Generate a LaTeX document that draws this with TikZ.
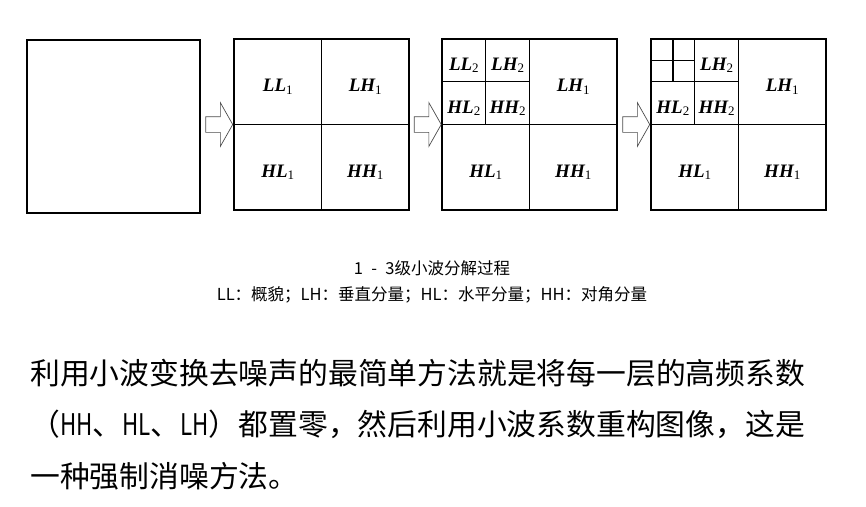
\documentclass[tikz,border=0pt]{standalone}
\usepackage{fontspec}
\setmainfont{Liberation Serif}
\newfontfamily\cjk{Noto Sans CJK SC}
\usetikzlibrary{shapes.arrows,positioning,calc}
\newcommand{\bnd}[2]{{\bfseries\itshape #1}\raisebox{-0.3ex}{\fontsize{13}{14}\selectfont #2}}
\newcommand{\narrow}[1]{\scalebox{0.75}[1]{#1}}
\tikzset{
  bigbox/.style={rectangle, draw=black, line width=1.3pt, inner sep=0pt,
                 outer sep=0pt, minimum width=175pt, minimum height=171pt},
  splitline/.style={line width=1.3pt, draw=black},
  band/.style={font=\fontsize{19}{22}\selectfont, inner sep=0pt, yshift=-5pt},
  blockarr/.style={single arrow, draw=black!70, line width=0.7pt,
                   inner xsep=0pt, inner ysep=7.5pt,
                   single arrow head extend=14pt, single arrow tip angle=121,
                   minimum height=27pt},
  captext/.style={font=\cjk\fontsize{16.5}{19}\selectfont, inner sep=0pt},
  para/.style={font=\cjk\fontsize{29.8}{36}\selectfont, anchor=west, inner sep=0pt}
}
\begin{document}
\begin{tikzpicture}[x=1pt, y=-1pt, node distance=33pt]
  \useasboundingbox (0,0) rectangle (866,506);

  % original image and the three levels
  \node[bigbox, minimum width=173pt, minimum height=173pt] (b0) at (113.5,126.5) {};
  \node[bigbox] (b1) at (321.5,124.5) {};
  \node[bigbox, right=of b1]      (b2) {};
  \node[bigbox, right=34pt of b2] (b3) {};

  \foreach \b in {b1,b2,b3}{
    \draw[splitline] (\b.north) -- (\b.south);
    \draw[splitline] (\b.west) -- (\b.east);
  }
  \foreach \b in {b2,b3}{
    \draw[splitline] ($(\b.north west)!0.5!(\b.north)$) -- ++(0,85.5);
    \draw[splitline] ($(\b.north west)!0.5!(\b.west)$) -- ++(87.5,0);
  }
  \draw[splitline] ($(b3.north west)+(175/8,0)$) -- ++(0,171/4);
  \draw[splitline] ($(b3.north west)+(0,171/8)$) -- ++(175/4,0);

  % arrows between the boxes
  \foreach \a/\b/\n in {b0/b1/a1, b1/b2/a2, b2/b3/a3}{
    \node[blockarr] (\n) at ($(\a.east |- \b.west)!0.5!(\b.west)$) {};
  }

  % band labels
  \foreach \t/\s/\x/\y in {LL/1/2/2, LH/1/6/2, HL/1/2/6, HH/1/6/6}
    \node[band] (b1-\t\s) at ($(b1.north west)+(\x*175/8,\y*171/8)$) {\bnd{\t}{\s}};
  \foreach \t/\s/\x/\y in {LL/2/1/1, LH/2/3/1, HL/2/1/3, HH/2/3/3, LH/1/6/2, HL/1/2/6, HH/1/6/6}
    \node[band] (b2-\t\s) at ($(b2.north west)+(\x*175/8,\y*171/8)$) {\bnd{\t}{\s}};
  \foreach \t/\s/\x/\y in {LH/2/3/1, HL/2/1/3, HH/2/3/3, LH/1/6/2, HL/1/2/6, HH/1/6/6}
    \node[band] (b3-\t\s) at ($(b3.north west)+(\x*175/8,\y*171/8)$) {\bnd{\t}{\s}};

  % caption
  \node[captext] (cap1) at (432,268) {1\hspace{0.5em}-\hspace{0.5em}3级小波分解过程};
  \node[captext, below=11pt of cap1] (cap2) {LL：概貌；LH：垂直分量；HL：水平分量；HH：对角分量};

  % text below
  \node[para] (p1) at (30,373) {利用小波变换去噪声的最简单方法就是将每一层的高频系数};
  \node[para] (p2) at (30,424) {（\narrow{HH}、\narrow{HL}、\narrow{LH}）都置零，然后利用小波系数重构图像，这是};
  \node[para] (p3) at (30,476) {一种强制消噪方法。};
\end{tikzpicture}
\end{document}
